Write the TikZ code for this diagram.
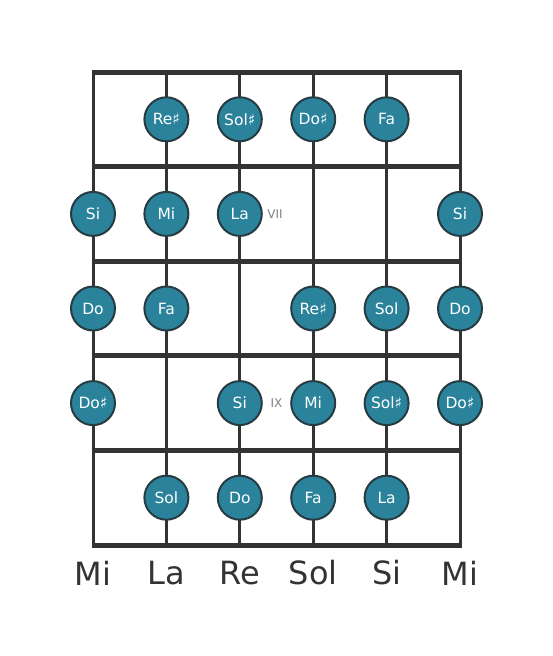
\documentclass[tikz,border=0pt]{standalone}
\usepackage{fontspec}
\setmainfont{DejaVu Sans}
\usetikzlibrary{positioning}
\definecolor{ink}{HTML}{333333}
\definecolor{noteblue}{HTML}{2A829B}
\definecolor{rim}{HTML}{263C42}
\tikzset{
  fret/.style={ink,line width=5pt},
  string/.style={ink,line width=3pt},
  note/.style={circle,draw=rim,line width=2pt,fill=noteblue,minimum size=44pt,inner sep=0pt,text=white,font=\fontsize{15.5}{15.5}\selectfont},
  fretmark/.style={text=gray,font=\fontsize{12}{12}\selectfont},
  tuning/.style={ink,font=\fontsize{32}{32}\selectfont}
}

\begin{document}
\begin{tikzpicture}[x=1pt,y=-1pt]
  \useasboundingbox (0,0) rectangle (553,656);
  % strings
  \foreach \n/\x in {1/93,2/166.4,3/239.8,4/313.2,5/386.6,6/460} {
    \coordinate (t\n) at (\x,72);
    \coordinate (b\n) at (\x,545);
    \draw[string] (t\n) -- (b\n);
  }
  % frets
  \foreach \f/\y in {0/72,1/166.6,2/261.2,3/355.8,4/450.4,5/545} {
    \coordinate (l\f) at (91.5,\y);
    \coordinate (r\f) at (461.5,\y);
    \draw[fret] (l\f) -- (r\f);
  }
  % first fret
  \node[note] (a2) at (166.4,119.3) {Re♯};
  \node[note] (a3) at (239.8,119.3) {Sol♯};
  \node[note] (a4) at (313.2,119.3) {Do♯};
  \node[note] (a5) at (386.6,119.3) {Fa};
  % second fret
  \node[note] (b1n) at (93,213.9) {Si};
  \node[note] (b2n) at (166.4,213.9) {Mi};
  \node[note] (b3n) at (239.8,213.9) {La};
  \node[note] (b6n) at (460,213.9) {Si};
  \node[fretmark] (vii) at (275,213.9) {VII};
  % third fret
  \node[note] (c1) at (93,308.5) {Do};
  \node[note] (c2) at (166.4,308.5) {Fa};
  \node[note] (c4) at (313.2,308.5) {Re♯};
  \node[note] (c5) at (386.6,308.5) {Sol};
  \node[note] (c6) at (460,308.5) {Do};
  % fourth fret
  \node[note] (d1) at (93,403.1) {Do♯};
  \node[note] (d3) at (239.8,403.1) {Si};
  \node[note] (d4) at (313.2,403.1) {Mi};
  \node[note] (d5) at (386.6,403.1) {Sol♯};
  \node[note] (d6) at (460,403.1) {Do♯};
  \node[fretmark] (ix) at (276.5,403.1) {IX};
  % fifth fret
  \node[note] (e2) at (166.4,497.7) {Sol};
  \node[note] (e3) at (239.8,497.7) {Do};
  \node[note] (e4) at (313.2,497.7) {Fa};
  \node[note] (e5) at (386.6,497.7) {La};
  % open strings
  \node[tuning] (o1) at (93,573) {Mi};
  \node[tuning] (o2) at (166.4,573) {La};
  \node[tuning] (o3) at (239.8,573) {Re};
  \node[tuning] (o4) at (313.2,573) {Sol};
  \node[tuning] (o5) at (386.6,573) {Si};
  \node[tuning] (o6) at (460,573) {Mi};
\end{tikzpicture}
\end{document}
